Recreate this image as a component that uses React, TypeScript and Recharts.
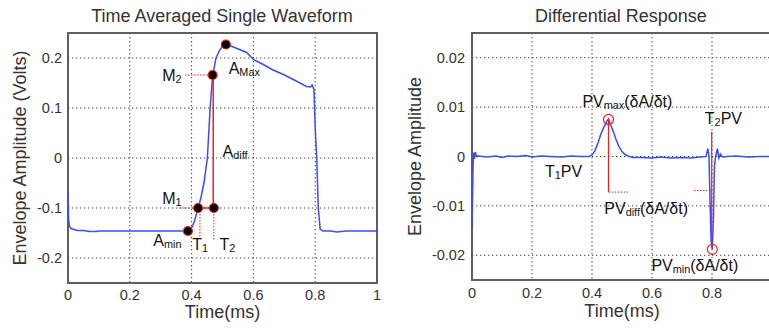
import React from "react";
import {
  CartesianGrid,
  Line,
  LineChart,
  ReferenceArea,
  ReferenceDot,
  ReferenceLine,
  XAxis,
  YAxis,
} from "recharts";

// Left panel: time averaged single waveform
const WAVE_TIME = [
  0, 0.002, 0.005, 0.01, 0.02, 0.03, 0.05, 0.07, 0.09, 0.1, 0.15, 0.2, 0.25, 0.3, 0.35, 0.38, 0.388,
  0.4, 0.41, 0.421, 0.43, 0.44, 0.451, 0.46, 0.468, 0.479, 0.49, 0.5, 0.511, 0.52, 0.535, 0.578, 0.6,
  0.632, 0.66, 0.697, 0.729, 0.772, 0.785, 0.79, 0.796, 0.8, 0.805, 0.81, 0.816, 0.825, 0.85, 0.87,
  0.9, 0.95, 1.0,
];
const WAVE_AMP = [
  -0.072, -0.124, -0.137, -0.141, -0.143, -0.145, -0.145, -0.147, -0.147, -0.146, -0.146, -0.146,
  -0.146, -0.146, -0.146, -0.146, -0.146, -0.14, -0.125, -0.1, -0.08, -0.05, 0.0, 0.1, 0.165, 0.2,
  0.215, 0.224, 0.227, 0.226, 0.222, 0.211, 0.197, 0.187, 0.177, 0.167, 0.157, 0.143, 0.142, 0.146,
  0.137, 0.06, 0.0, -0.1, -0.142, -0.146, -0.146, -0.148, -0.146, -0.146, -0.146,
];
const WAVE_X_TICKS = [0, 0.2, 0.4, 0.6, 0.8, 1];
const WAVE_Y_TICKS = [-0.2, -0.1, 0, 0.1, 0.2];

// Right panel: differential response
const DIFF_TIME = [
  0, 0.003, 0.005, 0.008, 0.011, 0.015, 0.02, 0.05, 0.08, 0.1, 0.12, 0.15, 0.18, 0.2, 0.23, 0.26, 0.3,
  0.33, 0.36, 0.39, 0.4, 0.41, 0.42, 0.43, 0.44, 0.45, 0.455, 0.46, 0.47, 0.48, 0.49, 0.5, 0.51, 0.52,
  0.535, 0.56, 0.6, 0.63, 0.66, 0.7, 0.73, 0.76, 0.78, 0.786, 0.79, 0.793, 0.797, 0.801, 0.805, 0.808,
  0.812, 0.818, 0.823, 0.828, 0.835, 0.85, 0.88, 0.92, 0.96, 1.0,
];
const DIFF_VAL = [
  -0.015, -0.004, 0.0008, -0.0005, 0.0009, 0.0, 0.0001, -0.0001, 0.0001, -0.0002, 0.0001, 0.0, 0.0002,
  -0.0001, 0.0001, 0.0, -0.0001, 0.0001, 0.0, 0.0, 0.0003, 0.0012, 0.0028, 0.0046, 0.006, 0.0072,
  0.0076, 0.0068, 0.0052, 0.0035, 0.002, 0.001, 0.0004, 0.0001, -0.0002, -0.0002, -0.0003, -0.0001,
  -0.0003, -0.0002, -0.0003, -0.0001, 0.0, 0.0016, 0.0, -0.008, -0.017, -0.0188, -0.012, -0.002, 0.0,
  0.0016, -0.0003, 0.0005, -0.0001, 0.0, 0.0001, -0.0001, 0.0, 0.0,
];
const DIFF_X_TICKS = [0, 0.2, 0.4, 0.6, 0.8];
const DIFF_Y_TICKS = [-0.02, -0.01, 0, 0.01, 0.02];

// feature points on the waveform
const WAVE_POINTS = [
  { x: 0.388, y: -0.146 }, // Amin
  { x: 0.421, y: -0.1 }, // M1
  { x: 0.472, y: -0.1 }, // T2 crossing
  { x: 0.468, y: 0.166 }, // M2
  { x: 0.511, y: 0.227 }, // AMax
];
const WAVE_LABELS = [
  { x: 0.305, y: 0.166, main: "M", sub: "2", tail: "" },
  { x: 0.52, y: 0.18, main: "A", sub: "Max", tail: "" },
  { x: 0.5, y: 0.015, main: "A", sub: "diff", tail: "" },
  { x: 0.305, y: -0.08, main: "M", sub: "1", tail: "" },
  { x: 0.276, y: -0.163, main: "A", sub: "min", tail: "" },
  { x: 0.402, y: -0.172, main: "T", sub: "1", tail: "" },
  { x: 0.49, y: -0.172, main: "T", sub: "2", tail: "" },
];
const DIFF_CIRCLES = [
  { x: 0.455, y: 0.0075 },
  { x: 0.801, y: -0.0188 },
];
const DIFF_LABELS = [
  { x: 0.368, y: 0.0113, main: "PV", sub: "max", tail: "(δA/δt)" },
  { x: 0.243, y: -0.003, main: "T", sub: "1", tail: "PV" },
  { x: 0.441, y: -0.0105, main: "PV", sub: "diff", tail: "(δA/δt)" },
  { x: 0.776, y: 0.0077, main: "T", sub: "2", tail: "PV" },
  { x: 0.598, y: -0.022, main: "PV", sub: "min", tail: "(δA/δt)" },
];

const waveData = WAVE_TIME.map((t, i) => ({ t, v: WAVE_AMP[i] }));
const diffData = DIFF_TIME.map((t, i) => ({ t, v: DIFF_VAL[i] }));

const FONT = "'Liberation Sans', Arial, sans-serif";
const BLUE = "#3b4bff";
const RED = "#ff1a1a";
const GRID = "#3a3a3a";
const FRAME = "#5e5e5e";
const TICK = { fontSize: 14.5, fill: "#333", fontFamily: FONT };
const AXIS_LABEL = { fontSize: 18, fill: "#333", fontFamily: FONT };

function annot(main: string, sub: string, tail: string, size: number) {
  return (p: any) => (
    <text x={p.cx} y={p.cy} fontSize={size} fontFamily={FONT} fill="#111" dominantBaseline="central">
      <tspan>{main}</tspan>
      {sub && (
        <tspan fontSize={size * 0.68} dy={4}>
          {sub}
        </tspan>
      )}
      {tail && <tspan dy={sub ? -4 : 0}>{tail}</tspan>}
    </text>
  );
}

function Title({ text, center }: { text: string; center: number }) {
  return (
    <div
      style={{
        position: "absolute",
        top: 6,
        left: center - 160,
        width: 320,
        textAlign: "center",
        fontFamily: FONT,
        fontSize: 18,
        color: "#333",
      }}
    >
      {text}
    </div>
  );
}

export default function App() {
  return (
    <div
      style={{
        position: "absolute",
        left: 0,
        top: 0,
        width: 769,
        height: 329,
        overflow: "hidden",
        background: "#fff",
      }}
    >
      <Title text="Time Averaged Single Waveform" center={222} />
      <Title text="Differential Response" center={621} />

      <div style={{ position: "absolute", left: 0, top: 0 }}>
        <LineChart width={390} height={329} data={waveData} margin={{ top: 33, right: 13, bottom: 16, left: 0 }}>
          <CartesianGrid stroke={GRID} strokeDasharray="1.3 2.7" />
          <XAxis
            dataKey="t"
            type="number"
            domain={[0, 1]}
            ticks={WAVE_X_TICKS}
            tick={TICK}
            tickLine={false}
            axisLine={false}
            tickSize={0}
            tickMargin={7}
            height={30}
            label={{ value: "Time(ms)", position: "bottom", offset: -8, style: AXIS_LABEL }}
          />
          <YAxis
            type="number"
            domain={[-0.25, 0.25]}
            ticks={WAVE_Y_TICKS}
            tick={TICK}
            tickLine={false}
            axisLine={false}
            tickSize={0}
            tickMargin={6}
            width={68}
            label={{
              value: "Envelope Amplitude (Volts)",
              angle: -90,
              position: "insideLeft",
              offset: 20,
              style: { ...AXIS_LABEL, textAnchor: "middle" },
            }}
          />
          <ReferenceArea x1={0} x2={1} y1={-0.25} y2={0.25} fill="none" stroke={FRAME} strokeWidth={2} />
          <Line dataKey="v" stroke={BLUE} strokeWidth={1.5} dot={false} isAnimationActive={false} />
          {/* dotted leaders */}
          <ReferenceLine segment={[{ x: 0.379, y: 0.166 }, { x: 0.468, y: 0.166 }]} stroke={RED} strokeDasharray="1.5 1.5" />
          <ReferenceLine segment={[{ x: 0.36, y: -0.1 }, { x: 0.421, y: -0.1 }]} stroke={RED} strokeDasharray="1.5 1.5" />
          <ReferenceLine segment={[{ x: 0.427, y: -0.1 }, { x: 0.427, y: -0.163 }]} stroke={RED} strokeDasharray="1.5 1.5" />
          <ReferenceLine segment={[{ x: 0.472, y: -0.1 }, { x: 0.472, y: -0.163 }]} stroke={RED} strokeDasharray="1.5 1.5" />
          {/* solid A_diff lines */}
          <ReferenceLine segment={[{ x: 0.47, y: 0.166 }, { x: 0.47, y: -0.1 }]} stroke={RED} strokeWidth={1.5} />
          <ReferenceLine segment={[{ x: 0.421, y: -0.1 }, { x: 0.472, y: -0.1 }]} stroke={RED} strokeWidth={1.5} />
          {WAVE_POINTS.map((p, i) => (
            <ReferenceDot key={i} x={p.x} y={p.y} r={4.5} fill="#000" stroke={RED} strokeWidth={1.2} />
          ))}
          {WAVE_LABELS.map((l, i) => (
            <ReferenceDot key={"l" + i} x={l.x} y={l.y} r={1} shape={annot(l.main, l.sub, l.tail, 16)} />
          ))}
        </LineChart>
      </div>

      <div style={{ position: "absolute", left: 380, top: 0 }}>
        <LineChart width={410} height={329} data={diffData} margin={{ top: 33, right: 18, bottom: 19, left: 0 }}>
          <CartesianGrid stroke={GRID} strokeDasharray="1.3 2.7" />
          <XAxis
            dataKey="t"
            type="number"
            domain={[0, 1]}
            ticks={DIFF_X_TICKS}
            tick={TICK}
            tickLine={false}
            axisLine={false}
            tickSize={0}
            tickMargin={8}
            height={30}
            label={{ value: "Time(ms)", position: "bottom", offset: -6, style: AXIS_LABEL }}
          />
          <YAxis
            type="number"
            domain={[-0.025, 0.025]}
            ticks={DIFF_Y_TICKS}
            tick={TICK}
            tickLine={false}
            axisLine={false}
            tickSize={0}
            tickMargin={7}
            width={92}
            label={{
              value: "Envelope Amplitude",
              angle: -90,
              position: "insideLeft",
              offset: 35,
              style: { ...AXIS_LABEL, textAnchor: "middle" },
            }}
          />
          <ReferenceArea x1={0} x2={1} y1={-0.025} y2={0.025} fill="none" stroke={FRAME} strokeWidth={2} />
          <Line dataKey="v" stroke={BLUE} strokeWidth={1.5} dot={false} isAnimationActive={false} />
          <ReferenceLine segment={[{ x: 0.455, y: 0.0075 }, { x: 0.455, y: -0.0072 }]} stroke={RED} strokeWidth={1.2} />
          <ReferenceLine segment={[{ x: 0.455, y: -0.0072 }, { x: 0.52, y: -0.0072 }]} stroke={RED} strokeDasharray="1.5 1.5" />
          <ReferenceLine segment={[{ x: 0.799, y: 0.005 }, { x: 0.799, y: -0.0185 }]} stroke={RED} strokeWidth={1.2} />
          <ReferenceLine segment={[{ x: 0.74, y: -0.0069 }, { x: 0.797, y: -0.0069 }]} stroke={RED} strokeDasharray="1.5 1.5" />
          {DIFF_CIRCLES.map((p, i) => (
            <ReferenceDot key={i} x={p.x} y={p.y} r={5} fill="none" stroke={RED} strokeWidth={1.2} />
          ))}
          {DIFF_LABELS.map((l, i) => (
            <ReferenceDot key={"l" + i} x={l.x} y={l.y} r={1} shape={annot(l.main, l.sub, l.tail, 16)} />
          ))}
        </LineChart>
      </div>
    </div>
  );
}
